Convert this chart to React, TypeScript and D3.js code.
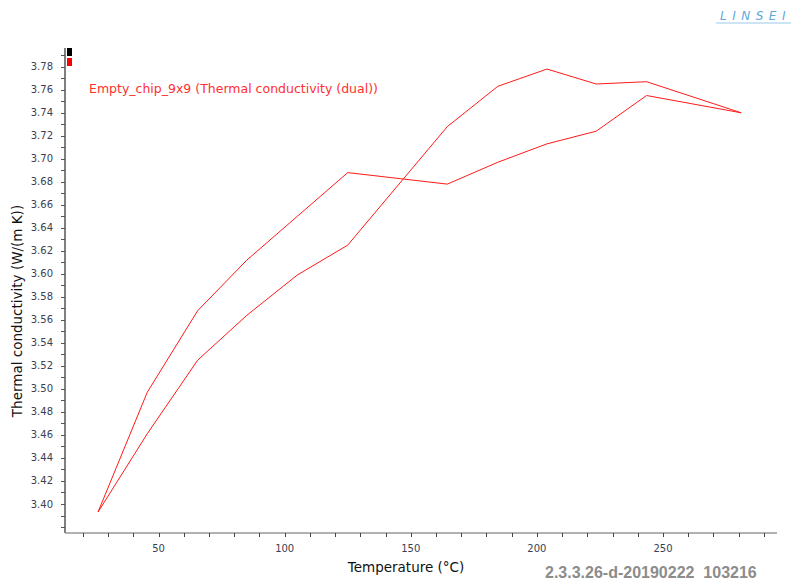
import React from "react";
import * as d3 from "d3";

// Measured branch (first pass through the temperature program)
const branchATemps = [26, 45.5, 65.5, 85, 105, 125, 164.5, 184.5, 204, 223.5, 243.5, 281];
const branchAValues = [3.393, 3.497, 3.568, 3.612, 3.650, 3.688, 3.678, 3.697, 3.713, 3.724, 3.755, 3.740];

// Return branch
const branchBTemps = [281, 243.5, 223.5, 204, 184.5, 164.5, 125, 105, 85, 65.5, 45.5, 26];
const branchBValues = [3.740, 3.767, 3.765, 3.778, 3.763, 3.728, 3.625, 3.599, 3.564, 3.525, 3.461, 3.393];

const xTickLabels = [50, 100, 150, 200, 250];
const yTickLabels = [3.40, 3.42, 3.44, 3.46, 3.48, 3.50, 3.52, 3.54, 3.56, 3.58, 3.60, 3.62, 3.64, 3.66, 3.68, 3.70, 3.72, 3.74, 3.76, 3.78];

const seriesName = "Empty_chip_9x9 (Thermal conductivity (dual))";
const xTitle = "Temperature (°C)";
const yTitle = "Thermal conductivity (W/(m K))";
const versionText = "2.3.3.26-d-20190222  103216";

const W = 791;
const H = 581;

export default function App() {
  const x = d3.scaleLinear().domain([12.9, 295.2]).range([65, 777]);
  const y = d3.scaleLinear().domain([3.3748, 3.7963]).range([533, 48]);

  const pts: [number, number][] = [
    ...branchATemps.map((t, i) => [t, branchAValues[i]] as [number, number]),
    ...branchBTemps.map((t, i) => [t, branchBValues[i]] as [number, number]),
  ];
  const line = d3
    .line<[number, number]>()
    .x((d) => x(d[0]))
    .y((d) => y(d[1]));

  const xMinor = d3.range(20, 300, 10);
  const yMinor = d3.range(3.38, 3.795, 0.01);

  const tickFont = "'DejaVu Sans', sans-serif";

  return (
    <svg
      width={W}
      height={H}
      style={{ position: "absolute", left: 0, top: 0, background: "#fff" }}
    >
      {/* brand mark, cut by the right edge */}
      <g>
        <text
          x={720}
          y={20}
          fontFamily="'DejaVu Sans', sans-serif"
          fontStyle="italic"
          fontSize={12}
          letterSpacing={5.5}
          fill="#5fa8de"
        >
          LINSEIS
        </text>
        <line x1={716} x2={791} y1={23} y2={23} stroke="#9cc9ea" strokeWidth={1} />
      </g>

      {/* y axis */}
      <line x1={65} x2={65} y1={48} y2={533} stroke="#555" strokeWidth={1.5} />
      {yMinor.map((v, i) => (
        <line
          key={"ym" + i}
          x1={61}
          x2={65}
          y1={Math.round(y(v)) + 0.5}
          y2={Math.round(y(v)) + 0.5}
          stroke="#555"
          strokeWidth={1}
        />
      ))}
      {yTickLabels.map((v) => (
        <text
          key={"yl" + v}
          x={53}
          y={y(v) + 3.5}
          textAnchor="end"
          fontFamily={tickFont}
          fontSize={10}
          fill="#3a3f52"
        >
          {v.toFixed(2)}
        </text>
      ))}

      {/* x axis */}
      <line x1={65} x2={777} y1={533} y2={533} stroke="#999" strokeWidth={1.5} />
      {xMinor.map((t) => (
        <line
          key={"xm" + t}
          x1={Math.round(x(t)) + 0.5}
          x2={Math.round(x(t)) + 0.5}
          y1={533}
          y2={537}
          stroke="#444"
          strokeWidth={1}
        />
      ))}
      {xTickLabels.map((t) => (
        <text
          key={"xl" + t}
          x={x(t)}
          y={552}
          textAnchor="middle"
          fontFamily={tickFont}
          fontSize={10}
          fill="#3a3f52"
        >
          {t}
        </text>
      ))}

      {/* axis titles */}
      <text
        x={406}
        y={572}
        textAnchor="middle"
        fontFamily={tickFont}
        fontSize={13.5}
        fill="#111"
      >
        {xTitle}
      </text>
      <text
        transform={`translate(22, 311) rotate(-90)`}
        textAnchor="middle"
        fontFamily={tickFont}
        fontSize={13.5}
        fill="#111"
      >
        {yTitle}
      </text>

      {/* legend markers */}
      <rect x={67} y={48} width={5} height={8} fill="#000" />
      <rect x={67} y={58} width={5} height={8} fill="#ff0000" />

      {/* series label */}
      <text
        x={89}
        y={93}
        fontFamily={tickFont}
        fontSize={12.5}
        fill="#ff3030"
      >
        {seriesName}
      </text>

      {/* data loop */}
      <path d={line(pts) || ""} fill="none" stroke="#ff1a1a" strokeWidth={1} strokeLinejoin="round" />

      {/* build stamp */}
      <text
        x={545}
        y={578}
        fontFamily="'Liberation Sans', Arial, sans-serif"
        fontWeight="bold"
        fontSize={16}
        fill="#8c8c8c"
        style={{ whiteSpace: "pre" }}
      >
        {versionText}
      </text>
    </svg>
  );
}
